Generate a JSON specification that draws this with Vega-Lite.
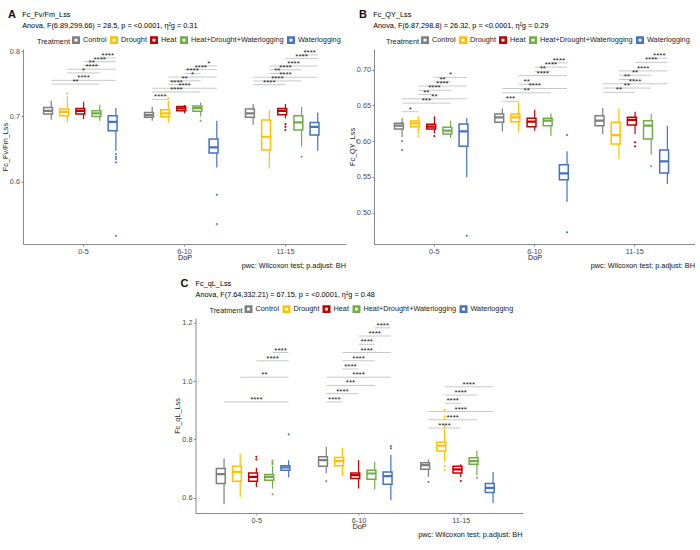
{
  "$schema": "https://vega.github.io/schema/vega-lite/v6.json",
  "padding": {"left": 1, "top": 8, "right": 0, "bottom": 0},
  "background": "white",
  "datasets": {
    "boxA": [
      {"DoP":"0-5","Treatment":"Control","lo":0.6948,"q1":0.7035,"med":0.7086,"q3":0.7138,"hi":0.7239},
      {"DoP":"0-5","Treatment":"Drought","lo":0.6908,"q1":0.701,"med":0.707,"q3":0.7112,"hi":0.7306},
      {"DoP":"0-5","Treatment":"Heat","lo":0.6959,"q1":0.7035,"med":0.7086,"q3":0.7122,"hi":0.7224},
      {"DoP":"0-5","Treatment":"Heat+Drought+Waterlogging","lo":0.6933,"q1":0.70,"med":0.7046,"q3":0.7086,"hi":0.7178},
      {"DoP":"0-5","Treatment":"Waterlogging","lo":0.6473,"q1":0.678,"med":0.6917,"q3":0.701,"hi":0.7127},
      {"DoP":"6-10","Treatment":"Control","lo":0.6933,"q1":0.6985,"med":0.702,"q3":0.7061,"hi":0.7147},
      {"DoP":"6-10","Treatment":"Drought","lo":0.6908,"q1":0.6994,"med":0.7046,"q3":0.7101,"hi":0.7239},
      {"DoP":"6-10","Treatment":"Heat","lo":0.705,"q1":0.7086,"med":0.7122,"q3":0.7153,"hi":0.7173},
      {"DoP":"6-10","Treatment":"Heat+Drought+Waterlogging","lo":0.70,"q1":0.7077,"med":0.7127,"q3":0.7158,"hi":0.7214},
      {"DoP":"6-10","Treatment":"Waterlogging","lo":0.6219,"q1":0.6438,"med":0.6525,"q3":0.6652,"hi":0.6933},
      {"DoP":"11-15","Treatment":"Control","lo":0.6871,"q1":0.6985,"med":0.7046,"q3":0.7112,"hi":0.7188},
      {"DoP":"11-15","Treatment":"Drought","lo":0.6204,"q1":0.6484,"med":0.6688,"q3":0.6943,"hi":0.7096},
      {"DoP":"11-15","Treatment":"Heat","lo":0.6969,"q1":0.7024,"med":0.7086,"q3":0.7122,"hi":0.7188},
      {"DoP":"11-15","Treatment":"Heat+Drought+Waterlogging","lo":0.654,"q1":0.679,"med":0.6908,"q3":0.701,"hi":0.7147},
      {"DoP":"11-15","Treatment":"Waterlogging","lo":0.6473,"q1":0.6714,"med":0.6841,"q3":0.6908,"hi":0.7061}
    ],
    "outA": [
      {"DoP":"0-5","Treatment":"Drought","value":0.735},
      {"DoP":"0-5","Treatment":"Waterlogging","value":0.6423},
      {"DoP":"0-5","Treatment":"Waterlogging","value":0.6381},
      {"DoP":"0-5","Treatment":"Waterlogging","value":0.6346},
      {"DoP":"0-5","Treatment":"Waterlogging","value":0.6296},
      {"DoP":"0-5","Treatment":"Waterlogging","value":0.5172},
      {"DoP":"6-10","Treatment":"Drought","value":0.7276},
      {"DoP":"6-10","Treatment":"Heat+Drought+Waterlogging","value":0.6933},
      {"DoP":"6-10","Treatment":"Waterlogging","value":0.58},
      {"DoP":"6-10","Treatment":"Waterlogging","value":0.535},
      {"DoP":"11-15","Treatment":"Heat","value":0.6882},
      {"DoP":"11-15","Treatment":"Heat","value":0.6841},
      {"DoP":"11-15","Treatment":"Heat","value":0.679},
      {"DoP":"11-15","Treatment":"Heat+Drought+Waterlogging","value":0.6381}
    ],
    "brA": [
      {"DoP":"0-5","g1":"Control","g2":"Heat+Drought+Waterlogging","mid":"Drought|Heat","y":0.7495,"p":"**"},
      {"DoP":"0-5","g1":"Control","g2":"Waterlogging","mid":"Heat","y":0.7552,"p":"****"},
      {"DoP":"0-5","g1":"Drought","g2":"Heat+Drought+Waterlogging","mid":"Heat","y":0.7666,"p":"*"},
      {"DoP":"0-5","g1":"Drought","g2":"Waterlogging","mid":"Heat|HDW","y":0.7723,"p":"****"},
      {"DoP":"0-5","g1":"Heat","g2":"Heat+Drought+Waterlogging","mid":"Heat|HDW","y":0.778,"p":"**"},
      {"DoP":"0-5","g1":"Heat","g2":"Waterlogging","mid":"Heat+Drought+Waterlogging","y":0.7837,"p":"****"},
      {"DoP":"0-5","g1":"Heat+Drought+Waterlogging","g2":"Waterlogging","mid":"HDW|Waterlogging","y":0.7894,"p":"****"},
      {"DoP":"6-10","g1":"Control","g2":"Drought","mid":"Control|Drought","y":0.726,"p":"****"},
      {"DoP":"6-10","g1":"Control","g2":"Heat+Drought+Waterlogging","mid":"Drought|Heat","y":0.7374,"p":"****"},
      {"DoP":"6-10","g1":"Control","g2":"Waterlogging","mid":"Heat","y":0.7431,"p":"****"},
      {"DoP":"6-10","g1":"Drought","g2":"Heat","mid":"Drought|Heat","y":0.7488,"p":"****"},
      {"DoP":"6-10","g1":"Drought","g2":"Heat+Drought+Waterlogging","mid":"Heat","y":0.7545,"p":"**"},
      {"DoP":"6-10","g1":"Drought","g2":"Waterlogging","mid":"Heat|HDW","y":0.7602,"p":"*"},
      {"DoP":"6-10","g1":"Heat","g2":"Heat+Drought+Waterlogging","mid":"Heat|HDW","y":0.7659,"p":"****"},
      {"DoP":"6-10","g1":"Heat","g2":"Waterlogging","mid":"Heat+Drought+Waterlogging","y":0.7716,"p":"****"},
      {"DoP":"6-10","g1":"Heat+Drought+Waterlogging","g2":"Waterlogging","mid":"HDW|Waterlogging","y":0.7773,"p":"*"},
      {"DoP":"11-15","g1":"Control","g2":"Heat","mid":"Drought","y":0.7486,"p":"****"},
      {"DoP":"11-15","g1":"Control","g2":"Heat+Drought+Waterlogging","mid":"Drought|Heat","y":0.7543,"p":"****"},
      {"DoP":"11-15","g1":"Control","g2":"Waterlogging","mid":"Heat","y":0.76,"p":"****"},
      {"DoP":"11-15","g1":"Drought","g2":"Heat","mid":"Drought|Heat","y":0.7657,"p":"**"},
      {"DoP":"11-15","g1":"Drought","g2":"Heat+Drought+Waterlogging","mid":"Heat","y":0.7714,"p":"****"},
      {"DoP":"11-15","g1":"Drought","g2":"Waterlogging","mid":"Heat|HDW","y":0.7771,"p":"****"},
      {"DoP":"11-15","g1":"Heat","g2":"Waterlogging","mid":"Heat+Drought+Waterlogging","y":0.7885,"p":"****"},
      {"DoP":"11-15","g1":"Heat+Drought+Waterlogging","g2":"Waterlogging","mid":"HDW|Waterlogging","y":0.7942,"p":"****"}
    ],
    "boxB": [
      {"DoP":"0-5","Treatment":"Control","lo":0.6053,"q1":0.6169,"med":0.6216,"q3":0.6249,"hi":0.6319},
      {"DoP":"0-5","Treatment":"Drought","lo":0.61,"q1":0.6202,"med":0.6249,"q3":0.6282,"hi":0.6347},
      {"DoP":"0-5","Treatment":"Heat","lo":0.6109,"q1":0.6169,"med":0.6202,"q3":0.6235,"hi":0.6347},
      {"DoP":"0-5","Treatment":"Heat+Drought+Waterlogging","lo":0.6043,"q1":0.61,"med":0.6146,"q3":0.6193,"hi":0.6286},
      {"DoP":"0-5","Treatment":"Waterlogging","lo":0.5493,"q1":0.5927,"med":0.6137,"q3":0.6239,"hi":0.6319},
      {"DoP":"6-10","Treatment":"Control","lo":0.6132,"q1":0.6263,"med":0.6333,"q3":0.638,"hi":0.6459},
      {"DoP":"6-10","Treatment":"Drought","lo":0.6132,"q1":0.6272,"med":0.6333,"q3":0.638,"hi":0.6543},
      {"DoP":"6-10","Treatment":"Heat","lo":0.6146,"q1":0.6202,"med":0.6272,"q3":0.6319,"hi":0.644},
      {"DoP":"6-10","Treatment":"Heat+Drought+Waterlogging","lo":0.6076,"q1":0.6216,"med":0.6286,"q3":0.6319,"hi":0.6389},
      {"DoP":"6-10","Treatment":"Waterlogging","lo":0.5151,"q1":0.5459,"med":0.5549,"q3":0.5669,"hi":0.5857},
      {"DoP":"11-15","Treatment":"Control","lo":0.61,"q1":0.6216,"med":0.6286,"q3":0.6356,"hi":0.6464},
      {"DoP":"11-15","Treatment":"Drought","lo":0.5749,"q1":0.5959,"med":0.6085,"q3":0.6263,"hi":0.6459},
      {"DoP":"11-15","Treatment":"Heat","lo":0.61,"q1":0.6226,"med":0.6296,"q3":0.6333,"hi":0.6412},
      {"DoP":"11-15","Treatment":"Heat+Drought+Waterlogging","lo":0.581,"q1":0.6029,"med":0.6216,"q3":0.6286,"hi":0.638},
      {"DoP":"11-15","Treatment":"Waterlogging","lo":0.54,"q1":0.5553,"med":0.5717,"q3":0.5875,"hi":0.6216}
    ],
    "outB": [
      {"DoP":"0-5","Treatment":"Control","value":0.6001},
      {"DoP":"0-5","Treatment":"Control","value":0.5875},
      {"DoP":"0-5","Treatment":"Drought","value":0.607},
      {"DoP":"0-5","Treatment":"Heat","value":0.607},
      {"DoP":"0-5","Treatment":"Waterlogging","value":0.4675},
      {"DoP":"6-10","Treatment":"Waterlogging","value":0.6085},
      {"DoP":"6-10","Treatment":"Waterlogging","value":0.4723},
      {"DoP":"11-15","Treatment":"Heat","value":0.5983},
      {"DoP":"11-15","Treatment":"Heat","value":0.5927},
      {"DoP":"11-15","Treatment":"Heat+Drought+Waterlogging","value":0.5647}
    ],
    "brB": [
      {"DoP":"0-5","g1":"Control","g2":"Drought","mid":"Control|Drought","y":0.6412,"p":"*"},
      {"DoP":"0-5","g1":"Control","g2":"Heat+Drought+Waterlogging","mid":"Drought|Heat","y":0.6532,"p":"***"},
      {"DoP":"0-5","g1":"Control","g2":"Waterlogging","mid":"Heat","y":0.6592,"p":"**"},
      {"DoP":"0-5","g1":"Drought","g2":"Heat","mid":"Drought|Heat","y":0.6652,"p":"**"},
      {"DoP":"0-5","g1":"Drought","g2":"Heat+Drought+Waterlogging","mid":"Heat","y":0.6712,"p":"****"},
      {"DoP":"0-5","g1":"Drought","g2":"Waterlogging","mid":"Heat|HDW","y":0.6772,"p":"****"},
      {"DoP":"0-5","g1":"Heat","g2":"Heat+Drought+Waterlogging","mid":"Heat|HDW","y":0.6832,"p":"**"},
      {"DoP":"0-5","g1":"Heat","g2":"Waterlogging","mid":"Heat+Drought+Waterlogging","y":0.6892,"p":"*"},
      {"DoP":"6-10","g1":"Control","g2":"Drought","mid":"Control|Drought","y":0.6557,"p":"***"},
      {"DoP":"6-10","g1":"Control","g2":"Heat+Drought+Waterlogging","mid":"Drought|Heat","y":0.6677,"p":"**"},
      {"DoP":"6-10","g1":"Control","g2":"Waterlogging","mid":"Heat","y":0.6737,"p":"****"},
      {"DoP":"6-10","g1":"Drought","g2":"Heat","mid":"Drought|Heat","y":0.6797,"p":"**"},
      {"DoP":"6-10","g1":"Drought","g2":"Waterlogging","mid":"Heat|HDW","y":0.6917,"p":"****"},
      {"DoP":"6-10","g1":"Heat","g2":"Heat+Drought+Waterlogging","mid":"Heat|HDW","y":0.6977,"p":"**"},
      {"DoP":"6-10","g1":"Heat","g2":"Waterlogging","mid":"Heat+Drought+Waterlogging","y":0.7037,"p":"****"},
      {"DoP":"6-10","g1":"Heat+Drought+Waterlogging","g2":"Waterlogging","mid":"HDW|Waterlogging","y":0.7097,"p":"****"},
      {"DoP":"11-15","g1":"Control","g2":"Heat","mid":"Drought","y":0.6683,"p":"**"},
      {"DoP":"11-15","g1":"Control","g2":"Heat+Drought+Waterlogging","mid":"Drought|Heat","y":0.6743,"p":"**"},
      {"DoP":"11-15","g1":"Control","g2":"Waterlogging","mid":"Heat","y":0.6803,"p":"****"},
      {"DoP":"11-15","g1":"Drought","g2":"Heat","mid":"Drought|Heat","y":0.6863,"p":"**"},
      {"DoP":"11-15","g1":"Drought","g2":"Heat+Drought+Waterlogging","mid":"Heat","y":0.6923,"p":"**"},
      {"DoP":"11-15","g1":"Drought","g2":"Waterlogging","mid":"Heat|HDW","y":0.6983,"p":"****"},
      {"DoP":"11-15","g1":"Heat","g2":"Waterlogging","mid":"Heat+Drought+Waterlogging","y":0.7103,"p":"****"},
      {"DoP":"11-15","g1":"Heat+Drought+Waterlogging","g2":"Waterlogging","mid":"HDW|Waterlogging","y":0.7163,"p":"****"}
    ],
    "boxC": [
      {"DoP":"0-5","Treatment":"Control","lo":0.5769,"q1":0.6483,"med":0.6803,"q3":0.70,"hi":0.7345},
      {"DoP":"0-5","Treatment":"Drought","lo":0.6021,"q1":0.6562,"med":0.6883,"q3":0.7079,"hi":0.7517},
      {"DoP":"0-5","Treatment":"Heat","lo":0.6366,"q1":0.6562,"med":0.671,"q3":0.6848,"hi":0.7021},
      {"DoP":"0-5","Treatment":"Heat+Drought+Waterlogging","lo":0.631,"q1":0.6597,"med":0.671,"q3":0.6793,"hi":0.709},
      {"DoP":"0-5","Treatment":"Waterlogging","lo":0.669,"q1":0.6941,"med":0.7034,"q3":0.709,"hi":0.7286},
      {"DoP":"6-10","Treatment":"Control","lo":0.6828,"q1":0.7079,"med":0.7286,"q3":0.74,"hi":0.7745},
      {"DoP":"6-10","Treatment":"Drought","lo":0.6745,"q1":0.709,"med":0.7252,"q3":0.7379,"hi":0.771},
      {"DoP":"6-10","Treatment":"Heat","lo":0.631,"q1":0.6655,"med":0.6769,"q3":0.6848,"hi":0.7286},
      {"DoP":"6-10","Treatment":"Heat+Drought+Waterlogging","lo":0.6276,"q1":0.6631,"med":0.6828,"q3":0.6941,"hi":0.7228},
      {"DoP":"6-10","Treatment":"Waterlogging","lo":0.5907,"q1":0.6459,"med":0.6734,"q3":0.6883,"hi":0.7459},
      {"DoP":"11-15","Treatment":"Control","lo":0.671,"q1":0.6976,"med":0.7114,"q3":0.7193,"hi":0.731},
      {"DoP":"11-15","Treatment":"Drought","lo":0.7228,"q1":0.7597,"med":0.778,"q3":0.7897,"hi":0.8493},
      {"DoP":"11-15","Treatment":"Heat","lo":0.671,"q1":0.6848,"med":0.6966,"q3":0.708,"hi":0.7148},
      {"DoP":"11-15","Treatment":"Heat+Drought+Waterlogging","lo":0.6769,"q1":0.7148,"med":0.7252,"q3":0.7366,"hi":0.7607},
      {"DoP":"11-15","Treatment":"Waterlogging","lo":0.5814,"q1":0.6172,"med":0.6331,"q3":0.6483,"hi":0.6883}
    ],
    "outC": [
      {"DoP":"0-5","Treatment":"Heat","value":0.74},
      {"DoP":"0-5","Treatment":"Heat","value":0.731},
      {"DoP":"0-5","Treatment":"Heat+Drought+Waterlogging","value":0.727},
      {"DoP":"0-5","Treatment":"Heat+Drought+Waterlogging","value":0.72},
      {"DoP":"0-5","Treatment":"Heat+Drought+Waterlogging","value":0.715},
      {"DoP":"0-5","Treatment":"Heat+Drought+Waterlogging","value":0.6114},
      {"DoP":"0-5","Treatment":"Waterlogging","value":0.8172},
      {"DoP":"6-10","Treatment":"Control","value":0.6562},
      {"DoP":"6-10","Treatment":"Waterlogging","value":0.7769},
      {"DoP":"6-10","Treatment":"Waterlogging","value":0.769},
      {"DoP":"11-15","Treatment":"Control","value":0.6538},
      {"DoP":"11-15","Treatment":"Drought","value":0.901},
      {"DoP":"11-15","Treatment":"Drought","value":0.878},
      {"DoP":"11-15","Treatment":"Drought","value":0.869},
      {"DoP":"11-15","Treatment":"Drought","value":0.708},
      {"DoP":"11-15","Treatment":"Drought","value":0.694},
      {"DoP":"11-15","Treatment":"Heat","value":0.6572},
      {"DoP":"11-15","Treatment":"Heat+Drought+Waterlogging","value":0.668}
    ],
    "brC": [
      {"DoP":"0-5","g1":"Control","g2":"Waterlogging","mid":"Heat","y":0.9286,"p":"****"},
      {"DoP":"0-5","g1":"Drought","g2":"Waterlogging","mid":"Heat|HDW","y":1.0135,"p":"**"},
      {"DoP":"0-5","g1":"Heat","g2":"Waterlogging","mid":"Heat+Drought+Waterlogging","y":1.0701,"p":"****"},
      {"DoP":"0-5","g1":"Heat+Drought+Waterlogging","g2":"Waterlogging","mid":"HDW|Waterlogging","y":1.0984,"p":"****"},
      {"DoP":"6-10","g1":"Control","g2":"Drought","mid":"Control|Drought","y":0.9286,"p":"****"},
      {"DoP":"6-10","g1":"Control","g2":"Heat","mid":"Drought","y":0.9569,"p":"****"},
      {"DoP":"6-10","g1":"Control","g2":"Heat+Drought+Waterlogging","mid":"Drought|Heat","y":0.9852,"p":"***"},
      {"DoP":"6-10","g1":"Control","g2":"Waterlogging","mid":"Heat","y":1.0135,"p":"****"},
      {"DoP":"6-10","g1":"Drought","g2":"Heat","mid":"Drought|Heat","y":1.0418,"p":"****"},
      {"DoP":"6-10","g1":"Drought","g2":"Heat+Drought+Waterlogging","mid":"Heat","y":1.0701,"p":"****"},
      {"DoP":"6-10","g1":"Drought","g2":"Waterlogging","mid":"Heat|HDW","y":1.0984,"p":"****"},
      {"DoP":"6-10","g1":"Heat","g2":"Heat+Drought+Waterlogging","mid":"Heat|HDW","y":1.1267,"p":"****"},
      {"DoP":"6-10","g1":"Heat","g2":"Waterlogging","mid":"Heat+Drought+Waterlogging","y":1.155,"p":"****"},
      {"DoP":"6-10","g1":"Heat+Drought+Waterlogging","g2":"Waterlogging","mid":"HDW|Waterlogging","y":1.1833,"p":"****"},
      {"DoP":"11-15","g1":"Control","g2":"Heat","mid":"Drought","y":0.839,"p":"****"},
      {"DoP":"11-15","g1":"Control","g2":"Heat+Drought+Waterlogging","mid":"Drought|Heat","y":0.8673,"p":"****"},
      {"DoP":"11-15","g1":"Control","g2":"Waterlogging","mid":"Heat","y":0.8956,"p":"****"},
      {"DoP":"11-15","g1":"Drought","g2":"Heat","mid":"Drought|Heat","y":0.9239,"p":"****"},
      {"DoP":"11-15","g1":"Drought","g2":"Heat+Drought+Waterlogging","mid":"Heat","y":0.9522,"p":"****"},
      {"DoP":"11-15","g1":"Drought","g2":"Waterlogging","mid":"Heat|HDW","y":0.9805,"p":"****"}
    ]
  },
  "vconcat": [
    {
      "hconcat": [
        {
          "title": {"text": "pwc: Wilcoxon test; p.adjust: BH", "orient": "bottom", "anchor": "end", "fontSize": 7.3, "fontWeight": "normal", "offset": 1},
          "vconcat": [
            {
              "width": 323, "height": 195,
              "title": {"text": "A", "subtitle": ["\u200b\u00a0\u00a0\u00a0\u00a0\u00a0\u00a0\u00a0Fc_Fv/Fm_Lss", "\u200b\u00a0\u00a0\u00a0\u00a0\u00a0\u00a0\u00a0Anova, F(6.89,299.66) = 28.5, p = <0.0001, η²g = 0.31"], "anchor": "start", "frame": "group", "dx": -15, "fontSize": 11, "fontWeight": "bold", "subtitleFontSize": 7.3, "subtitleColor": "black", "subtitlePadding": -9, "subtitleLineHeight": 11, "offset": 7},
              "encoding": {"x": {"field": "DoP", "type": "nominal", "scale": {"domain": ["0-5","6-10","11-15"], "paddingInner": 0.28, "paddingOuter": 0.24}, "axis": {"title": "DoP", "labelAngle": 0}}},
              "layer": [
                {"data": {"name": "boxA"}, "mark": {"type": "rule", "strokeWidth": 1.2},
                 "encoding": {"xOffset": {"field": "Treatment", "type": "nominal", "scale": {"domain": ["Control","Control|Drought","Drought","Drought|Heat","Heat","Heat|HDW","Heat+Drought+Waterlogging","HDW|Waterlogging","Waterlogging"], "paddingInner": 0, "paddingOuter": 0}},
                  "y": {"field": "lo", "type": "quantitative", "title": "Fc_Fv/Fm_Lss", "scale": {"domain": [0.5046, 0.8032], "nice": false, "zero": false}, "axis": {"values": [0.6, 0.7, 0.8], "format": ".1f"}},
                  "y2": {"field": "hi"},
                  "stroke": {"field": "Treatment", "type": "nominal", "title": "Treatment", "legend": {"orient": "none", "legendX": 14, "legendY": -13, "symbolType": "square", "symbolStrokeWidth": 2.5, "symbolSize": 30, "symbolFillColor": "white"}, "scale": {"domain": ["Control","Drought","Heat","Heat+Drought+Waterlogging","Waterlogging"], "range": ["#7F7F7F","#FFC000","#C00000","#70AD47","#4472C4"]}}}},
                {"data": {"name": "boxA"}, "mark": {"type": "bar", "fill": "white", "strokeWidth": 1.5, "width": {"band": 1.1}},
                 "encoding": {"xOffset": {"field": "Treatment", "type": "nominal"},
                  "y": {"field": "q1", "type": "quantitative", "title": "Fc_Fv/Fm_Lss"}, "y2": {"field": "q3"},
                  "stroke": {"field": "Treatment", "type": "nominal", "title": "Treatment"}}},
                {"data": {"name": "boxA"}, "mark": {"type": "bar", "fill": "white", "strokeWidth": 2.2, "width": {"band": 1.1}},
                 "encoding": {"xOffset": {"field": "Treatment", "type": "nominal"},
                  "y": {"field": "med", "type": "quantitative", "title": "Fc_Fv/Fm_Lss"}, "y2": {"field": "med"},
                  "stroke": {"field": "Treatment", "type": "nominal", "title": "Treatment"}}},
                {"data": {"name": "outA"}, "mark": {"type": "point", "shape": "square", "filled": false, "size": 1.2, "strokeWidth": 1, "opacity": 1},
                 "encoding": {"xOffset": {"field": "Treatment", "type": "nominal"},
                  "y": {"field": "value", "type": "quantitative", "title": "Fc_Fv/Fm_Lss"},
                  "stroke": {"field": "Treatment", "type": "nominal", "title": "Treatment"}}},
                {"data": {"name": "brA"}, "transform": [{"fold": ["g1", "g2"], "as": ["end", "slot"]}], "mark": {"type": "line", "stroke": "#c8c8c8", "strokeWidth": 1},
                 "encoding": {"xOffset": {"field": "slot", "type": "nominal"},
                  "y": {"field": "y", "type": "quantitative", "title": "Fc_Fv/Fm_Lss"},
                  "detail": [{"field": "DoP"}, {"field": "g1"}, {"field": "g2"}]}},
                {"data": {"name": "brA"}, "mark": {"type": "text", "fontSize": 8, "baseline": "alphabetic", "color": "#222"},
                 "encoding": {"xOffset": {"field": "mid", "type": "nominal"},
                  "y": {"field": "y", "type": "quantitative", "title": "Fc_Fv/Fm_Lss"},
                  "text": {"field": "p"}}}
              ]
            }
          ],
          "resolve": {"scale": {"stroke": "independent"}, "legend": {"stroke": "independent"}}
        },
        {
          "title": {"text": "pwc: Wilcoxon test; p.adjust: BH", "orient": "bottom", "anchor": "end", "fontSize": 7.3, "fontWeight": "normal", "offset": 1},
          "vconcat": [
            {
              "width": 321, "height": 195,
              "title": {"text": "B", "subtitle": ["\u200b\u00a0\u00a0\u00a0\u00a0\u00a0\u00a0\u00a0Fc_QY_Lss", "\u200b\u00a0\u00a0\u00a0\u00a0\u00a0\u00a0\u00a0Anova, F(6.87,298.8) = 26.32, p = <0.0001, η²g = 0.29"], "anchor": "start", "frame": "group", "dx": -15, "fontSize": 11, "fontWeight": "bold", "subtitleFontSize": 7.3, "subtitleColor": "black", "subtitlePadding": -9, "subtitleLineHeight": 11, "offset": 7},
              "encoding": {"x": {"field": "DoP", "type": "nominal", "scale": {"domain": ["0-5","6-10","11-15"], "paddingInner": 0.28, "paddingOuter": 0.24}, "axis": {"title": "DoP", "labelAngle": 0}}},
              "layer": [
                {"data": {"name": "boxB"}, "mark": {"type": "rule", "strokeWidth": 1.2},
                 "encoding": {"xOffset": {"field": "Treatment", "type": "nominal", "scale": {"domain": ["Control","Control|Drought","Drought","Drought|Heat","Heat","Heat|HDW","Heat+Drought+Waterlogging","HDW|Waterlogging","Waterlogging"], "paddingInner": 0, "paddingOuter": 0}},
                  "y": {"field": "lo", "type": "quantitative", "title": "Fc_QY_Lss", "scale": {"domain": [0.4559, 0.729], "nice": false, "zero": false}, "axis": {"values": [0.5, 0.55, 0.6, 0.65, 0.7], "format": ".2f"}},
                  "y2": {"field": "hi"},
                  "stroke": {"field": "Treatment", "type": "nominal", "title": "Treatment", "legend": {"orient": "none", "legendX": 12, "legendY": -13, "symbolType": "square", "symbolStrokeWidth": 2.5, "symbolSize": 30, "symbolFillColor": "white"}, "scale": {"domain": ["Control","Drought","Heat","Heat+Drought+Waterlogging","Waterlogging"], "range": ["#7F7F7F","#FFC000","#C00000","#70AD47","#4472C4"]}}}},
                {"data": {"name": "boxB"}, "mark": {"type": "bar", "fill": "white", "strokeWidth": 1.5, "width": {"band": 1.1}},
                 "encoding": {"xOffset": {"field": "Treatment", "type": "nominal"},
                  "y": {"field": "q1", "type": "quantitative", "title": "Fc_QY_Lss"}, "y2": {"field": "q3"},
                  "stroke": {"field": "Treatment", "type": "nominal", "title": "Treatment"}}},
                {"data": {"name": "boxB"}, "mark": {"type": "bar", "fill": "white", "strokeWidth": 2.2, "width": {"band": 1.1}},
                 "encoding": {"xOffset": {"field": "Treatment", "type": "nominal"},
                  "y": {"field": "med", "type": "quantitative", "title": "Fc_QY_Lss"}, "y2": {"field": "med"},
                  "stroke": {"field": "Treatment", "type": "nominal", "title": "Treatment"}}},
                {"data": {"name": "outB"}, "mark": {"type": "point", "shape": "square", "filled": false, "size": 1.2, "strokeWidth": 1, "opacity": 1},
                 "encoding": {"xOffset": {"field": "Treatment", "type": "nominal"},
                  "y": {"field": "value", "type": "quantitative", "title": "Fc_QY_Lss"},
                  "stroke": {"field": "Treatment", "type": "nominal", "title": "Treatment"}}},
                {"data": {"name": "brB"}, "transform": [{"fold": ["g1", "g2"], "as": ["end", "slot"]}], "mark": {"type": "line", "stroke": "#c8c8c8", "strokeWidth": 1},
                 "encoding": {"xOffset": {"field": "slot", "type": "nominal"},
                  "y": {"field": "y", "type": "quantitative", "title": "Fc_QY_Lss"},
                  "detail": [{"field": "DoP"}, {"field": "g1"}, {"field": "g2"}]}},
                {"data": {"name": "brB"}, "mark": {"type": "text", "fontSize": 8, "baseline": "alphabetic", "color": "#222"},
                 "encoding": {"xOffset": {"field": "mid", "type": "nominal"},
                  "y": {"field": "y", "type": "quantitative", "title": "Fc_QY_Lss"},
                  "text": {"field": "p"}}}
              ]
            }
          ],
          "resolve": {"scale": {"stroke": "independent"}, "legend": {"stroke": "independent"}}
        }
      ],
      "resolve": {"scale": {"stroke": "independent"}, "legend": {"stroke": "independent"}}
    },
    {
      "title": {"text": "pwc: Wilcoxon test; p.adjust: BH", "orient": "bottom", "anchor": "end", "fontSize": 7.3, "fontWeight": "normal", "offset": 1},
      "vconcat": [
        {
          "width": 327, "height": 195,
          "title": {"text": "\u200b\u00a0\u00a0\u00a0\u00a0\u00a0\u00a0\u00a0\u00a0\u00a0C", "subtitle": ["\u200b\u00a0\u00a0\u00a0\u00a0\u00a0\u00a0\u00a0\u00a0\u00a0\u00a0\u00a0\u00a0\u00a0\u00a0\u00a0\u00a0\u00a0\u00a0\u00a0\u00a0\u00a0Fc_qL_Lss", "\u200b\u00a0\u00a0\u00a0\u00a0\u00a0\u00a0\u00a0\u00a0\u00a0\u00a0\u00a0\u00a0\u00a0\u00a0\u00a0\u00a0\u00a0\u00a0\u00a0\u00a0\u00a0Anova, F(7.64,332.21) = 67.15, p = <0.0001, η²g = 0.48"], "anchor": "start", "frame": "group", "dx": -42.5, "fontSize": 11, "fontWeight": "bold", "subtitleFontSize": 7.3, "subtitleColor": "black", "subtitlePadding": -9, "subtitleLineHeight": 11, "offset": 7},
          "encoding": {"x": {"field": "DoP", "type": "nominal", "scale": {"domain": ["0-5","6-10","11-15"], "paddingInner": 0.28, "paddingOuter": 0.24}, "axis": {"title": "DoP", "labelAngle": 0}}},
          "layer": [
            {"data": {"name": "boxC"}, "mark": {"type": "rule", "strokeWidth": 1.2},
             "encoding": {"xOffset": {"field": "Treatment", "type": "nominal", "scale": {"domain": ["Control","Control|Drought","Drought","Drought|Heat","Heat","Heat|HDW","Heat+Drought+Waterlogging","HDW|Waterlogging","Waterlogging"], "paddingInner": 0, "paddingOuter": 0}},
              "y": {"field": "lo", "type": "quantitative", "title": "Fc_qL_Lss", "scale": {"domain": [0.547, 1.217], "nice": false, "zero": false}, "axis": {"values": [0.6, 0.8, 1.0, 1.2], "format": ".1f"}},
              "y2": {"field": "hi"},
              "stroke": {"field": "Treatment", "type": "nominal", "title": "Treatment", "legend": {"orient": "none", "legendX": 14, "legendY": -13, "symbolType": "square", "symbolStrokeWidth": 2.5, "symbolSize": 30, "symbolFillColor": "white"}, "scale": {"domain": ["Control","Drought","Heat","Heat+Drought+Waterlogging","Waterlogging"], "range": ["#7F7F7F","#FFC000","#C00000","#70AD47","#4472C4"]}}}},
            {"data": {"name": "boxC"}, "mark": {"type": "bar", "fill": "white", "strokeWidth": 1.5, "width": {"band": 1.1}},
             "encoding": {"xOffset": {"field": "Treatment", "type": "nominal"},
              "y": {"field": "q1", "type": "quantitative", "title": "Fc_qL_Lss"}, "y2": {"field": "q3"},
              "stroke": {"field": "Treatment", "type": "nominal", "title": "Treatment"}}},
            {"data": {"name": "boxC"}, "mark": {"type": "bar", "fill": "white", "strokeWidth": 2.2, "width": {"band": 1.1}},
             "encoding": {"xOffset": {"field": "Treatment", "type": "nominal"},
              "y": {"field": "med", "type": "quantitative", "title": "Fc_qL_Lss"}, "y2": {"field": "med"},
              "stroke": {"field": "Treatment", "type": "nominal", "title": "Treatment"}}},
            {"data": {"name": "outC"}, "mark": {"type": "point", "shape": "square", "filled": false, "size": 1.2, "strokeWidth": 1, "opacity": 1},
             "encoding": {"xOffset": {"field": "Treatment", "type": "nominal"},
              "y": {"field": "value", "type": "quantitative", "title": "Fc_qL_Lss"},
              "stroke": {"field": "Treatment", "type": "nominal", "title": "Treatment"}}},
            {"data": {"name": "brC"}, "transform": [{"fold": ["g1", "g2"], "as": ["end", "slot"]}], "mark": {"type": "line", "stroke": "#c8c8c8", "strokeWidth": 1},
             "encoding": {"xOffset": {"field": "slot", "type": "nominal"},
              "y": {"field": "y", "type": "quantitative", "title": "Fc_qL_Lss"},
              "detail": [{"field": "DoP"}, {"field": "g1"}, {"field": "g2"}]}},
            {"data": {"name": "brC"}, "mark": {"type": "text", "fontSize": 8, "baseline": "alphabetic", "color": "#222"},
             "encoding": {"xOffset": {"field": "mid", "type": "nominal"},
              "y": {"field": "y", "type": "quantitative", "title": "Fc_qL_Lss"},
              "text": {"field": "p"}}}
          ]
        }
      ],
      "resolve": {"scale": {"stroke": "independent"}, "legend": {"stroke": "independent"}}
    }
  ],
  "center": true,
  "spacing": 7,
  "resolve": {"scale": {"stroke": "independent"}, "legend": {"stroke": "independent"}},
  "config": {
    "font": "Liberation Sans",
    "view": {"stroke": null},
    "concat": {"spacing": 2},
    "axis": {"grid": false, "labelFontSize": 7.3, "titleFontSize": 7.3, "titleFontWeight": "normal", "labelColor": "#4d4d4d", "titleColor": "#222", "domainColor": "#8a8a8a", "tickColor": "#8a8a8a", "tickSize": 2, "labelPadding": 1.5, "titlePadding": 0},
    "axisX": {"titlePadding": -1},
    "legend": {"direction": "horizontal", "titleOrient": "left", "labelFontSize": 7.3, "titleFontSize": 7.3, "titleFontWeight": "normal", "titleColor": "#222", "labelColor": "#222", "columnPadding": -1, "labelOffset": 3, "titlePadding": 2},
    "title": {"color": "#111"}
  }
}
